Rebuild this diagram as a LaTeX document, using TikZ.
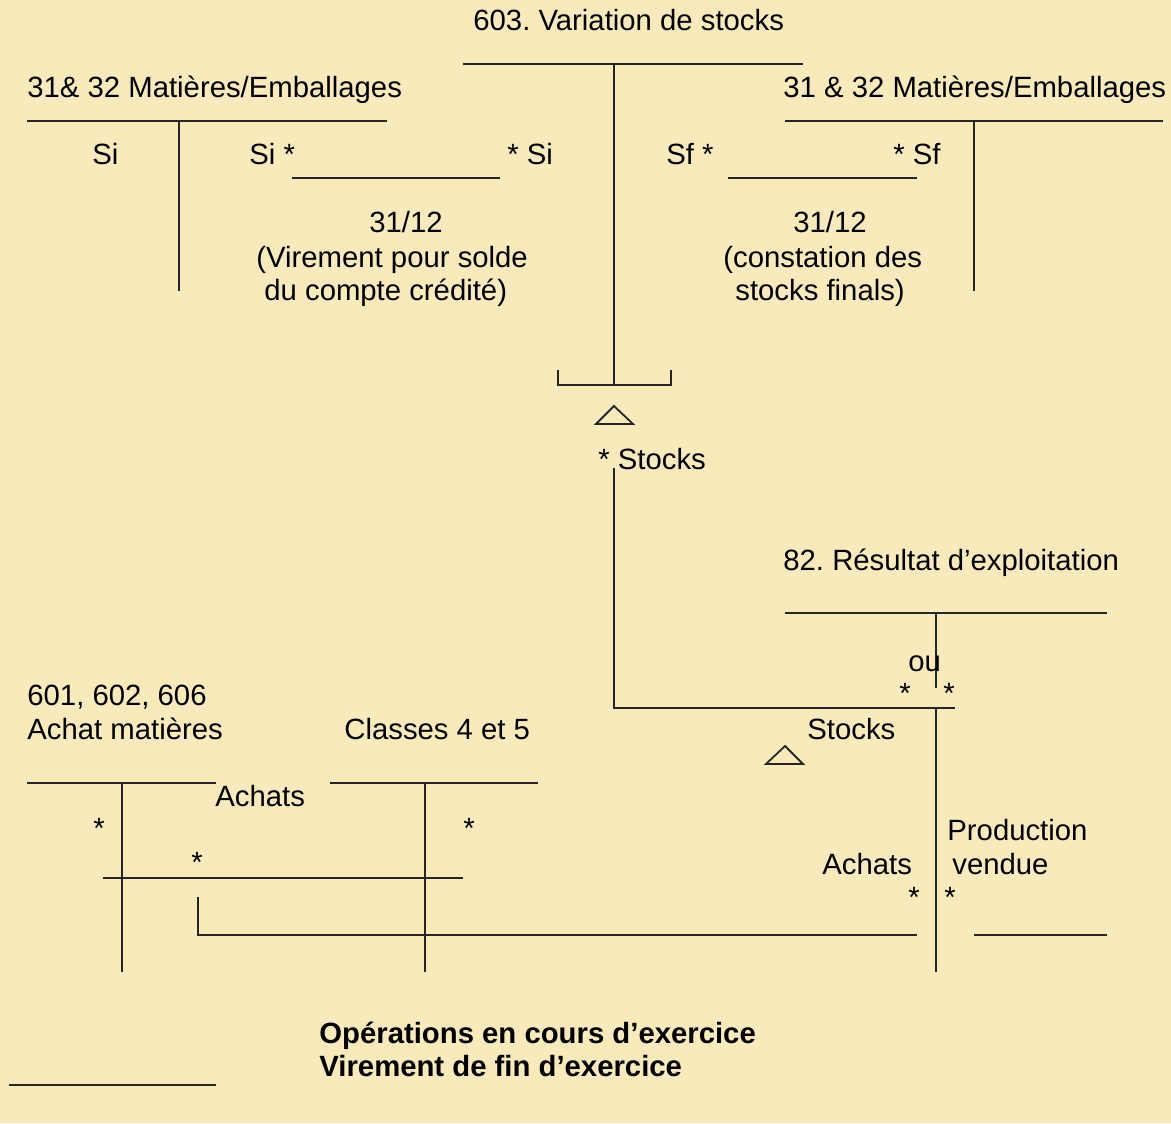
\documentclass[tikz,border=0pt]{standalone}
\usepackage{fontspec}
\setmainfont{Liberation Sans}
\usepackage{tikz}
\usetikzlibrary{positioning}
\frenchspacing

\definecolor{papier}{RGB}{248,234,186}

\begin{document}
\begin{tikzpicture}[x=0.5pt, y=-0.5pt]
    \tikzset{
        txt/.style={
            anchor=base west,
            inner sep=0pt,
            font=\fontsize{14.65}{17}\selectfont
        },
        txtc/.style={txt, anchor=base},
        gras/.style={txt, font=\fontsize{14.65}{17}\selectfont\bfseries},
        trait/.style={draw=black!85, line width=0.9pt},
        delta/.style={draw=black!85, line width=0.9pt, line join=miter}
    }

    % fond
    \fill[papier] (0,0) rectangle (1171,1123);
    \useasboundingbox (0,0) rectangle (1171,1123);

    % 603 Variation de stocks
    \node[txt] (var) at (473,31) {603. Variation de stocks};
    \draw[trait] (463,64) -- (803,64);
    \draw[trait] (614,64) -- (614,385);
    \draw[trait] (558,370) -- (558,385) -- (671,385) -- (671,370);
    \draw[delta] (596,424) -- (614,406) -- (633,424) -- cycle;

    % 31 & 32 a gauche
    \node[txt] (mat1) at (27,98) {31\& 32 Matières/Emballages};
    \draw[trait] (27,121) -- (387,121);
    \draw[trait] (179,121) -- (179,291);
    \node[txt] (si0) at (92,165) {Si};
    \node[txt] (si1) at (249,165) {Si *};
    \node[txt] (si2) at (507,165) {* Si};
    \draw[trait] (292,178) -- (500,178);
    \node[txtc] (date1) at (406,233) {31/12};
    \node[txt] (vir1) at (256,267) {(Virement pour solde};
    \node[txt] (vir2) at (264,300) {du compte crédité)};

    % 31 & 32 a droite
    \node[txt] (mat2) at (783,98) {31 \& 32 Matières/Emballages};
    \draw[trait] (785,121) -- (1163,121);
    \draw[trait] (974,121) -- (974,291);
    \node[txt] (sf1) at (666,165) {Sf *};
    \node[txt] (sf2) at (893,165) {* Sf};
    \draw[trait] (728,178) -- (917,178);
    \node[txtc] (date2) at (830,233) {31/12};
    \node[txt] (cst1) at (723,267) {(constation des};
    \node[txt] (cst2) at (735,300) {stocks finals)};

    % virement des stocks
    \node[txt] (stk1) at (598,469) {* Stocks};
    \coordinate (coin) at (614,708);
    \draw[trait] (614,468) -- (coin) -- (955,708);

    % 82 Resultat d'exploitation
    \node[txt] (res) at (783,570) {82. Résultat d’exploitation};
    \draw[trait] (785,613) -- (1107,613);
    \draw[trait] (936,613) -- (936,688);
    \node[txt] (ou) at (908,671) {ou};
    \node[txt] (e1) at (899,703) {*};
    \node[txt] (e2) at (943,703) {*};
    \draw[trait] (936,708) -- (936,972);
    \node[txt] (stk2) at (807,739) {Stocks};
    \draw[delta] (766,764) -- (785,746) -- (803,764) -- cycle;
    \node[txt] (prod1) at (947,840) {Production};
    \node[txt] (prod2) at (952,874) {vendue};
    \node[txt] (ach2) at (822,874) {Achats};
    \node[txt] (e3) at (908,907) {*};
    \node[txt] (e4) at (944,907) {*};
    \draw[trait] (974,935) -- (1107,935);

    % 601, 602, 606 Achat matieres
    \node[txt] (ach0) at (27,705) {601, 602, 606};
    \node[txt] (ach1) at (27,739) {Achat matières};
    \draw[trait] (27,783) -- (216,783);
    \draw[trait] (122,783) -- (122,972);
    \node[txt] (achl) at (215,806) {Achats};
    \node[txt] (e5) at (93,838) {*};
    \node[txt] (e6) at (191,872) {*};
    \draw[trait] (103,878) -- (463,878);
    \coordinate (renvoi) at (198,935);
    \draw[trait] (198,897) -- (renvoi) -- (917,935);

    % Classes 4 et 5
    \node[txt] (cls) at (344,739) {Classes 4 et 5};
    \draw[trait] (330,783) -- (538,783);
    \draw[trait] (425,783) -- (425,972);
    \node[txt] (e7) at (463,838) {*};

    % legende
    \node[gras] (leg1) at (319,1043) {Opérations en cours d’exercice};
    \node[gras] (leg2) at (319,1076) {Virement de fin d’exercice};
    \draw[trait] (9,1085) -- (216,1085);

\end{tikzpicture}
\end{document}
